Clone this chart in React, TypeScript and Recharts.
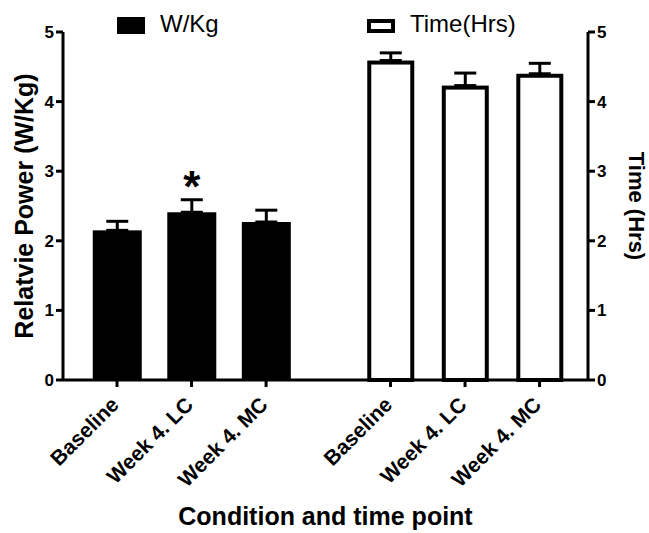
import { Bar, ComposedChart, ErrorBar, LabelList, Line, XAxis, YAxis } from "recharts"

const FONT = "'Liberation Sans', Arial, sans-serif"

const categories = ["Baseline", "Week 4. LC", "Week 4. MC"]
const powerMean = [2.15, 2.41, 2.27]
const powerSD = [0.13, 0.18, 0.17]
const powerSig = ["", "*", ""]
const timeMean = [4.59, 4.23, 4.4]
const timeSD = [0.11, 0.18, 0.15]
// slot positions on the x axis, second group shifted to leave the gap
const xSlots = [1, 2, 3, 4.67, 5.67, 6.67]
const yTicks = [0, 1, 2, 3, 4, 5]

type Row = {
  x: number
  value: number
  err: number[]
  series: string
  sig: string
  time: number | null
}

const data: Row[] = [
  ...categories.map((_, i) => ({
    x: xSlots[i],
    value: powerMean[i],
    err: [0, powerSD[i]],
    series: "power",
    sig: powerSig[i],
    time: null,
  })),
  ...categories.map((_, i) => ({
    x: xSlots[i + 3],
    value: timeMean[i],
    err: [0, timeSD[i]],
    series: "time",
    sig: "",
    time: timeMean[i],
  })),
]

function BarShape(props: any) {
  const { x, y, width, height, payload } = props
  if (payload.series === "power") {
    return <rect x={x} y={y} width={width} height={height} fill="#000" />
  }
  const sw = 4
  const outer = 47
  const inset = (width - outer) / 2 + sw / 2
  return (
    <rect
      x={x + inset}
      y={y + sw / 2}
      width={width - 2 * inset}
      height={height - sw / 2}
      fill="#fff"
      stroke="#000"
      strokeWidth={sw}
    />
  )
}

function SigLabel(props: any) {
  const { x, y, width, value } = props
  if (!value) return null
  return (
    <text x={x + width / 2} y={y - 10} textAnchor="middle" fontSize={44} fontWeight="bold" fontFamily={FONT} fill="#000">
      {value}
    </text>
  )
}

function XTick(props: any) {
  const { x, y, payload } = props
  const i = xSlots.indexOf(payload.value)
  const text = categories[i % 3]
  const ax = x + 3
  const ay = y + 17
  return (
    <text
      x={ax}
      y={ay}
      transform={`rotate(-45, ${ax}, ${ay})`}
      textAnchor="end"
      fontSize={21}
      fontWeight="bold"
      fontFamily={FONT}
      fill="#000"
    >
      {text}
    </text>
  )
}

const axisStroke = { stroke: "#000", strokeWidth: 3 }
const tickStyle = { fill: "#000", fontSize: 17, fontWeight: "bold", fontFamily: FONT }

export default function App() {
  return (
    <div style={{ position: "absolute", left: 0, top: 0, width: 649, height: 533, background: "#fff" }}>
      <ComposedChart width={649} height={533} data={data} margin={{ top: 32, right: 0, bottom: 0, left: 0 }}>
        <XAxis
          dataKey="x"
          type="number"
          domain={[0.275, 7.32]}
          ticks={xSlots}
          allowDataOverflow
          interval={0}
          height={153}
          axisLine={axisStroke}
          tickLine={axisStroke}
          tickSize={7}
          tick={<XTick />}
          label={{
            content: (p: any) => (
              <text
                x={p.viewBox.x + p.viewBox.width / 2}
                y={p.viewBox.y + 145}
                textAnchor="middle"
                fontSize={25}
                fontWeight="bold"
                fontFamily={FONT}
                fill="#000"
              >
                Condition and time point
              </text>
            ),
          }}
        />
        <YAxis
          yAxisId="left"
          width={63}
          domain={[0, 5]}
          ticks={yTicks}
          axisLine={axisStroke}
          tickLine={axisStroke}
          tickSize={7}
          tick={tickStyle}
          label={{
            content: (p: any) => {
              const cx = p.viewBox.x + 33
              const cy = p.viewBox.y + p.viewBox.height / 2
              return (
                <text
                  x={cx}
                  y={cy}
                  transform={`rotate(-90, ${cx}, ${cy})`}
                  textAnchor="middle"
                  fontSize={25}
                  fontWeight="bold"
                  fontFamily={FONT}
                  fill="#000"
                >
                  Relatvie Power (W/Kg)
                </text>
              )
            },
          }}
        />
        <YAxis
          yAxisId="right"
          orientation="right"
          width={61}
          domain={[0, 5]}
          ticks={yTicks}
          axisLine={axisStroke}
          tickLine={axisStroke}
          tickSize={7}
          tick={tickStyle}
          label={{
            content: (p: any) => {
              const cx = p.viewBox.x + 41
              const cy = p.viewBox.y + p.viewBox.height / 2
              return (
                <text
                  x={cx}
                  y={cy}
                  transform={`rotate(90, ${cx}, ${cy})`}
                  textAnchor="middle"
                  fontSize={22}
                  fontWeight="bold"
                  fontFamily={FONT}
                  fill="#000"
                >
                  Time (Hrs)
                </text>
              )
            },
          }}
        />
        <Bar yAxisId="left" dataKey="value" barSize={49} shape={<BarShape />} isAnimationActive={false}>
          <ErrorBar dataKey="err" direction="y" width={11} stroke="#000" strokeWidth={3} isAnimationActive={false} />
          <LabelList dataKey="sig" content={<SigLabel />} />
        </Bar>
        {/* time series bound to the right axis; bars above already draw it */}
        <Line
          yAxisId="right"
          dataKey="time"
          stroke="none"
          dot={false}
          activeDot={false}
          legendType="none"
          isAnimationActive={false}
        />
      </ComposedChart>
      <div
        style={{
          position: "absolute",
          left: 117,
          top: 17,
          width: 28,
          height: 17,
          background: "#000",
        }}
      />
      <div style={{ position: "absolute", left: 160, top: 10, fontFamily: FONT, fontSize: 24, lineHeight: "28px" }}>W/Kg</div>
      <div
        style={{
          position: "absolute",
          left: 367,
          top: 19,
          width: 20,
          height: 6,
          border: "4px solid #000",
          background: "#fff",
        }}
      />
      <div style={{ position: "absolute", left: 410, top: 10, fontFamily: FONT, fontSize: 24, lineHeight: "28px" }}>Time(Hrs)</div>
    </div>
  )
}
